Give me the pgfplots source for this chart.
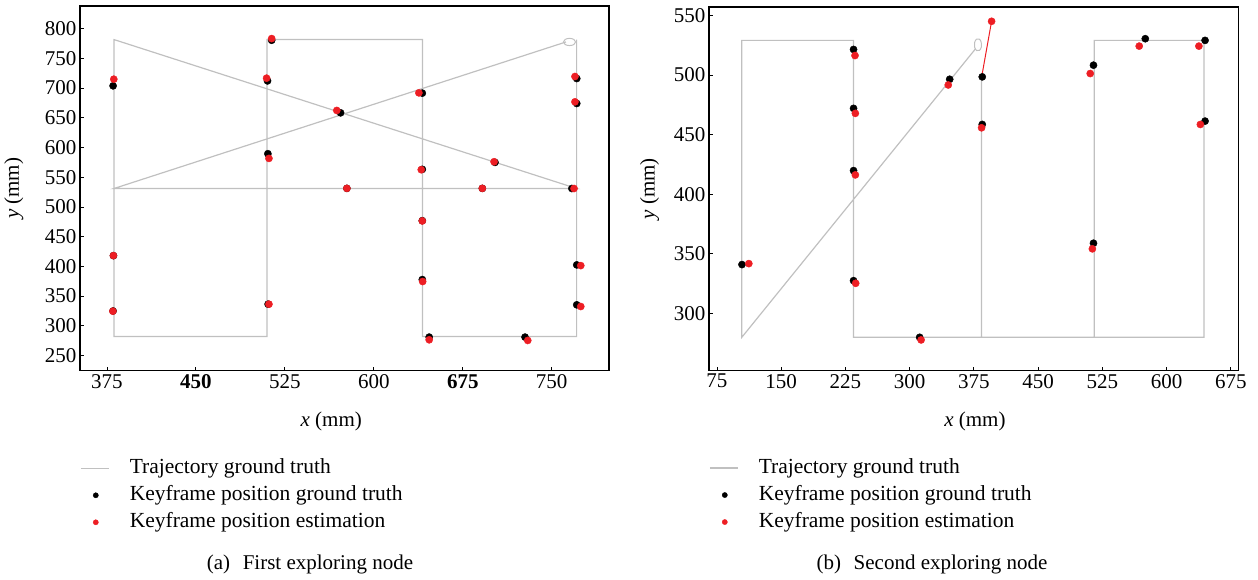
\documentclass[border=0pt]{standalone}
\usepackage{fontspec}
\setmainfont{Liberation Serif}
\usepackage{pgfplots}
\pgfplotsset{compat=1.18}
\definecolor{trajgray}{RGB}{192,192,192}
\definecolor{estred}{RGB}{237,30,36}

\pgfplotsset{
  myaxis/.style={
    scale only axis,
    axis line style={black, line width=1.1pt},
    tick align=inside,
    tick pos=left,
    major tick length=4pt,
    tick style={black, line width=0.8pt},
    ticklabel style={font=\fontsize{21}{25}\selectfont},
    /pgf/number format/assume math mode=true,
    /pgf/number format/set thousands separator={},
    label style={font=\fontsize{21}{25}\selectfont},
    xlabel={\textit{x} (mm)},
    ylabel={\textit{y} (mm)},
    legend cell align=left,
    legend style={draw=none, fill=none, inner sep=0pt, row sep=0pt,
      font=\fontsize{21.5}{25}\selectfont,
      nodes={inner xsep=1pt, inner ysep=3.5pt, text height=15pt, text depth=5pt}},
  },
  trajline/.style={trajgray, line width=1.2pt,
    legend image code/.code={\draw[trajgray, line width=1.2pt] (0pt,0pt) -- (28pt,0pt); \path[draw=none, fill=none] (0pt,0pt) rectangle (48pt,0.1pt);}},
  gtmark/.style={color=black, only marks, mark=*, mark size=3.6pt, mark options={fill=black, draw=none},
    legend image code/.code={\path[draw=none, fill=none] (0pt,0pt) rectangle (48pt,0.1pt); \fill[black] (15pt,0pt) circle (2.6pt);}},
  estmark/.style={color=estred, only marks, mark=*, mark size=3.6pt, mark options={fill=estred, draw=none},
    legend image code/.code={\path[draw=none, fill=none] (0pt,0pt) rectangle (48pt,0.1pt); \fill[estred] (15pt,0pt) circle (2.6pt);}},
}

\begin{document}
\begin{tikzpicture}
\useasboundingbox (0pt,0pt) rectangle (1258pt,579pt);

% ---------------- (a) First exploring node ----------------
\begin{axis}[myaxis,
  at={(80pt,208.3pt)}, anchor=south west,
  width=529pt, height=364.7pt,
  xmin=352.3, xmax=798.3, ymin=224.5, ymax=838,
  xtick={375,450,525,600,675,750},
  xticklabels={375,\textbf{450},525,600,\textbf{675},750},
  ytick={250,300,...,800},
  xlabel style={at={(axis description cs:0.475,-0.14)}, anchor=center},
  ylabel style={at={(axis description cs:-0.125,0.5)}, anchor=center},
  legend style={at={(axis description cs:0,-0.23)}, anchor=north west},
]
\addplot[trajline] coordinates {
  (771,781.5) (771,282) (641,282) (641,781.5) (510,781.5) (510,282)
  (381,282) (381,781.5) (771,531) (381,531) (762,777.5)};
\addlegendentry{Trajectory ground truth}
\addplot[trajgray, only marks, mark=o, mark size=3.6pt, mark options={xscale=1.7, line width=1pt}, forget plot]
  coordinates {(765,777.5)};
\addplot[gtmark] coordinates {
  (380.2,703.7) (380.5,418) (380.2,325) (510.4,712) (513.9,780.4)
  (510.7,589.5) (510.9,336.4) (572,658.3) (577.3,531.2) (640.9,691.4)
  (640.9,563.2) (640.9,476.9) (640.9,377.8) (646.7,281) (702.2,574.9)
  (691.5,531.2) (727.5,281) (767,531) (771.1,716) (771.1,674)
  (771.1,402.5) (771.1,335.3)};
\addlegendentry{Keyframe position ground truth}
\addplot[estmark] coordinates {
  (380.8,714.9) (380.5,418.1) (380,324.6) (509.6,716.6) (513.9,783.2)
  (511.6,581.6) (511.6,336.4) (568.8,662.3) (577.3,531.2) (638,691.9)
  (640,562.6) (640.9,476.4) (641.2,374.5) (646.7,276.5) (701.4,576)
  (691.5,531.2) (729.8,275.4) (768.8,531) (769.6,719.4) (769.6,676.8)
  (774.5,401.3) (774.5,332.5)};
\addlegendentry{Keyframe position estimation}
\end{axis}

% ---------------- (b) Second exploring node ----------------
\begin{axis}[myaxis,
  at={(709pt,208.3pt)}, anchor=south west,
  width=529.7pt, height=363.7pt,
  xmin=65.7, xmax=684.3, ymin=252, ymax=557,
  xtick={75,150,...,675},
  ytick={300,350,...,550},
  xlabel style={at={(axis description cs:0.502,-0.14)}, anchor=center},
  ylabel style={at={(axis description cs:-0.112,0.5)}, anchor=center},
  legend style={at={(axis description cs:0,-0.23)}, anchor=north west},
]
\addplot[trajline] coordinates {
  (384,500) (384,280) (515.5,280) (515.5,529) (643.7,529) (643.7,280)
  (234.5,280) (234.5,529) (104,529) (104,280) (377,522)};
\addlegendentry{Trajectory ground truth}
\addplot[trajgray, only marks, mark=o, mark size=3.6pt, mark options={yscale=1.7, rotate=-20, line width=1pt}, forget plot]
  coordinates {(379.8,525.3)};
\addplot[estred, line width=1pt, forget plot] coordinates {(384.4,499.5) (395.7,545)};
\addplot[gtmark] coordinates {
  (104.2,341) (234.5,521.4) (234.5,472) (234.5,419.8) (234.5,327.5)
  (311.7,280) (346.8,496.4) (384.8,498.4) (384.8,458.5) (514.7,508.2)
  (514.7,358.9) (575.2,530.4) (645,529) (645,461.3)};
\addlegendentry{Keyframe position ground truth}
\addplot[estmark] coordinates {
  (112.2,341.8) (236.2,516.3) (236.6,467.8) (236.6,416.2) (237,325.3)
  (313.4,277.8) (345.1,491.6) (395.7,545) (384,455.7) (510.9,501.2)
  (513.4,354.2) (568.1,524.2) (637.8,524.2) (639.5,458.5)};
\addlegendentry{Keyframe position estimation}
\end{axis}

\node[font=\fontsize{21}{25}\selectfont] at (310pt,15pt) {(a)\hspace{0.6em}First exploring node};
\node[font=\fontsize{21}{25}\selectfont] at (932pt,15pt) {(b)\hspace{0.6em}Second exploring node};
\end{tikzpicture}
\end{document}
